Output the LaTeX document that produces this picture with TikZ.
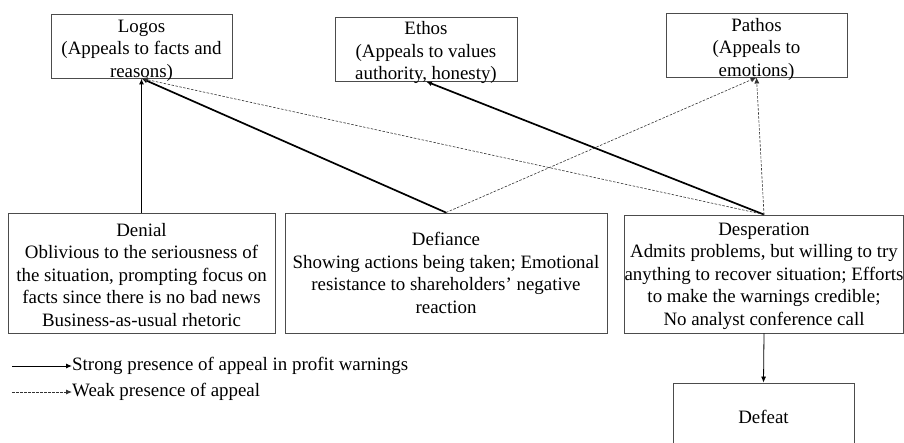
\documentclass[tikz,border=0pt]{standalone}
\usepackage{fontspec}
\setmainfont{Liberation Serif}
\usetikzlibrary{arrows.meta}
\begin{document}
\begin{tikzpicture}[x=1pt,y=-1pt,
  box/.style={draw=black!70,line width=0.9pt,rectangle,align=center,inner sep=0pt,font=\fontsize{18.9}{22.5}\selectfont},
  appeal/.style={box,minimum width=181pt,minimum height=64pt,text depth=0pt},
  strong/.style={-{Latex[length=6pt,width=5pt]},line width=1.7pt},
  weak/.style={-{Latex[length=6pt,width=5pt]},line width=0.6pt,dash pattern=on 2.5pt off 1.5pt,black!80},
  plain/.style={-{Latex[length=6pt,width=5pt]},line width=0.8pt},
  legend/.style={anchor=west,inner sep=0pt,font=\fontsize{18.9}{22.5}\selectfont}]
\clip (0,0) rectangle (904,442);
\fill[white] (0,0) rectangle (904,442);

\node[appeal] (logos) at (141.5,46) {\rule{0pt}{17pt}Logos\\(Appeals to facts and\\reasons)};
\node[appeal,minimum width=182pt] (ethos) at (426,49) {\rule{0pt}{16pt}Ethos\\(Appeals to values\\authority, honesty)};
\node[appeal] (pathos) at (756.5,45) {\rule{0pt}{17pt}Pathos\\(Appeals to\\emotions)};

\node[box,minimum width=267pt,minimum height=120pt] (denial) at (141.5,273) {\rule{0pt}{17pt}Denial\\Oblivious to the seriousness of\\the situation, prompting focus on\\facts since there is no bad news\\Business-as-usual rhetoric};
\node[box,minimum width=322pt,minimum height=120pt] (defiance) at (446,273) {Defiance\\Showing actions being taken; Emotional\\resistance to shareholders’ negative\\reaction};
\node[box,minimum width=278pt,minimum height=118pt] (desperation) at (764,274) {\rule{0pt}{17pt}Desperation\\Admits problems, but willing to try\\anything to recover situation; Efforts\\to make the warnings credible;\\No analyst conference call};
\node[box,minimum width=181pt,minimum height=68pt] (defeat) at (763.5,417) {Defeat};

\draw[strong] (denial.north)--(logos.south);
\draw[strong] (defiance.north)--(logos.south);
\draw[weak] (defiance.north)--(pathos.south);
\draw[strong] (desperation.north)--(ethos.south);
\draw[weak] (desperation.north)--(logos.south);
\draw[weak] (desperation.north)--(pathos.south);
\draw[plain] (desperation.south)--(defeat.north);

% legend
\node[legend] (strongtxt) at (72,366) {Strong presence of appeal in profit warnings};
\node[legend] (weaktxt) at (72,392) {Weak presence of appeal};
\coordinate (strongtail) at (12,366);
\coordinate (weaktail) at (12,392);
\draw[plain,line width=1pt] (strongtail)--(strongtxt.west);
\draw[weak,line width=0.8pt] (weaktail)--(weaktxt.west);
\end{tikzpicture}
\end{document}
